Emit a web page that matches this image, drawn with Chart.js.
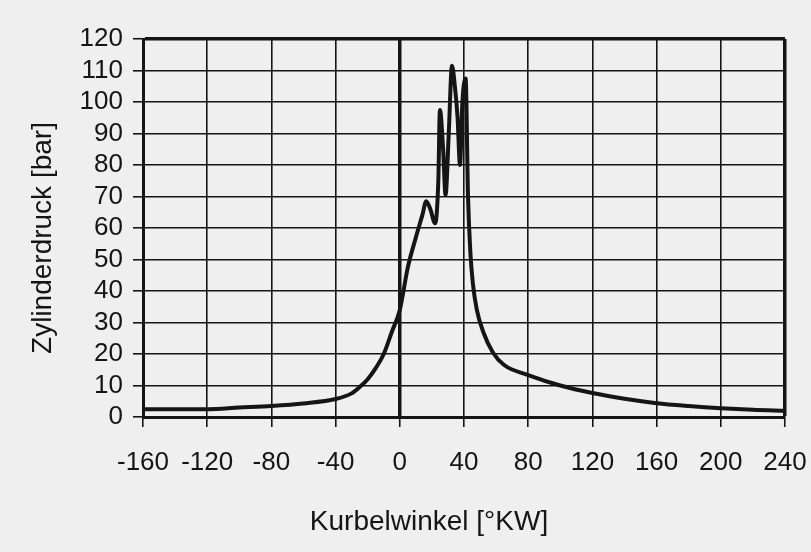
<!DOCTYPE html>
<html>
<head>
<meta charset="utf-8">
<script src="https://cdn.jsdelivr.net/npm/chart.js@4/dist/chart.umd.min.js"></script>
<style>
  html, body { margin: 0; padding: 0; background: #efefef; }
  canvas { display: block; }
</style>
</head>
<body>
<canvas id="pressureChart" width="811" height="552"></canvas>
<script>
// crank angle [°KW] and cylinder pressure [bar]
const crankAngles = [-160, -140, -120, -100, -80, -60, -40, -30, -25, -20, -15, -10, -5, 0, 5, 10, 14, 16.5, 19, 22, 24, 25, 27, 28.5, 30.5, 32.5, 34.5, 36, 37.5, 39, 41, 42.5, 44, 45.5, 48, 52, 58, 65, 80, 100, 120, 140, 160, 180, 200, 220, 240];
const pressures = [2.5, 2.5, 2.5, 3, 3.5, 4.3, 5.7, 7.5, 9.5, 12, 15.5, 20, 27, 34, 47.5, 57, 64, 68.5, 66, 61.5, 75, 97.5, 85, 70.5, 90, 111.5, 104, 95, 80, 100, 107.5, 70, 52, 42.5, 34, 27, 20.5, 16.5, 13.3, 10, 7.6, 5.8, 4.4, 3.5, 2.8, 2.3, 2];

const xTicks = [-160, -120, -80, -40, 0, 40, 80, 120, 160, 200, 240];
const yTicks = [0, 10, 20, 30, 40, 50, 60, 70, 80, 90, 100, 110, 120];

const xTitle = 'Kurbelwinkel [°KW]';
const yTitle = 'Zylinderdruck [bar]';

const ink = '#151515';
const font = '"Liberation Sans", Arial, sans-serif';

const points = crankAngles.map((a, i) => ({ x: a, y: pressures[i] }));

// axis titles drawn by hand so they sit where the picture has them
const axisTitles = {
  id: 'axisTitles',
  afterDraw(chart) {
    const ctx = chart.ctx;
    const area = chart.chartArea;
    ctx.save();
    ctx.fillStyle = ink;
    ctx.font = '28px ' + font;
    ctx.textAlign = 'center';
    ctx.textBaseline = 'middle';
    ctx.fillText(xTitle, area.left + 286, 522);
    ctx.translate(43, area.top + 199);
    ctx.rotate(-Math.PI / 2);
    ctx.fillText(yTitle, 0, 0);
    ctx.restore();
  }
};

new Chart(document.getElementById('pressureChart'), {
  type: 'line',
  data: {
    datasets: [{
      data: points,
      borderColor: ink,
      borderWidth: 4,
      pointRadius: 0,
      cubicInterpolationMode: 'monotone',
      fill: false,
    }],
  },
  options: {
    responsive: false,
    animation: false,
    layout: { padding: { top: 39, right: 26, left: 0, bottom: 0 } },
    plugins: { legend: { display: false }, tooltip: { enabled: false } },
    scales: {
      x: {
        type: 'linear',
        min: xTicks[0],
        max: xTicks[xTicks.length - 1],
        afterBuildTicks: (scale) => { scale.ticks = xTicks.map((v) => ({ value: v })); },
        afterFit: (scale) => {
          scale.height = 135;
          scale.paddingLeft = 0;
          scale.paddingRight = 0;
        },
        ticks: { color: ink, font: { size: 26, family: font }, padding: 20, maxRotation: 0, autoSkip: false },
        grid: {
          color: ink,
          lineWidth: (c) => (c.tick && (c.tick.value === 0 || c.tick.value === 240) ? 3.5 : 1.6),
          tickLength: 10,
          tickWidth: 1.6,
          tickColor: ink,
        },
        border: { display: true, color: ink, width: 3 },
      },
      y: {
        min: yTicks[0],
        max: yTicks[yTicks.length - 1],
        afterBuildTicks: (scale) => { scale.ticks = yTicks.map((v) => ({ value: v })); },
        afterFit: (scale) => {
          scale.width = 143;
          scale.paddingTop = 0;
          scale.paddingBottom = 0;
        },
        ticks: { color: ink, font: { size: 26, family: font }, padding: 10, autoSkip: false },
        grid: {
          color: ink,
          lineWidth: (c) => (c.tick && c.tick.value === 120 ? 3.5 : 1.6),
          tickLength: 10,
          tickWidth: 1.6,
          tickColor: ink,
        },
        border: { display: true, color: ink, width: 3 },
      },
    },
  },
  plugins: [axisTitles],
});
</script>
</body>
</html>
